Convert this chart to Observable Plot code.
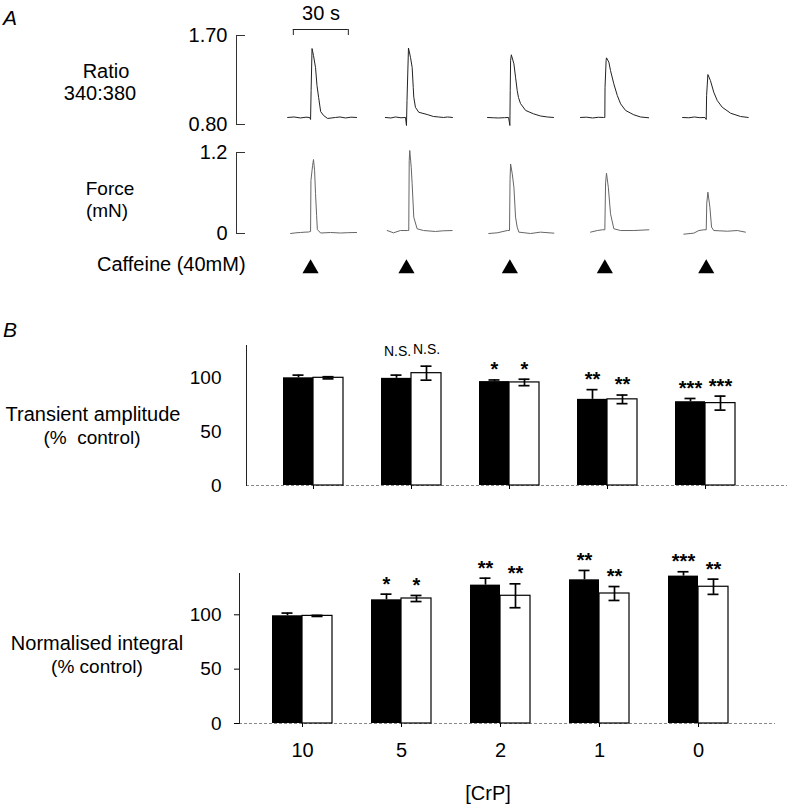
<!DOCTYPE html>
<html>
<head>
<meta charset="utf-8">
<script src="https://cdn.jsdelivr.net/npm/d3@7"></script>
<script src="https://cdn.jsdelivr.net/npm/@observablehq/plot@0.6"></script>
<style>
  body { margin: 0; background: white; }
  #fig { position: relative; width: 790px; height: 810px; overflow: hidden; background: white; }
  #fig svg { position: absolute; left: 0; }
  .lbl { position: absolute; white-space: nowrap; color: black; }
</style>
</head>
<body>
<div id="fig"></div>
<script>
// ---------------- DATA ----------------
// Panel A: caffeine application times along the recording (s)
const onsets = [40.4, 92.7, 149.1, 200.9, 256.2];
const scaleBarStart = 31;     // s
const scaleBarLength = 30;    // s
const ratioTicks = [0.8, 1.7];
const forceTicks = [0, 1.2];

// Fura-2 ratio 340:380 traces: [time relative to caffeine (s), ratio]
const ratioTrace1 = [[-12.5,0.871],[-9,0.876],[-5.5,0.866],[-2.5,0.874],[-0.5,0.871],[0,0.851],[0.3,1.144],[0.8,1.568],[1.6,1.497],[2.7,1.376],[3.5,1.194],[4.4,1.073],[5.5,0.931],[7.1,0.891],[9.3,0.861],[13.6,0.871],[16,0.876],[19.1,0.866],[22,0.874],[25.1,0.871]];
const ratioTrace2 = [[-11.5,0.871],[-8.5,0.866],[-6,0.876],[-3,0.868],[-0.5,0.871],[0,0.79],[0.3,1.043],[1.1,1.573],[2.2,1.479],[3.1,1.378],[3.7,1.176],[4.0,1.075],[4.9,0.974],[6.7,0.924],[11.3,0.901],[14.7,0.881],[17.5,0.876],[20.2,0.871],[22.5,0.876],[25.1,0.871]];
const ratioTrace3 = [[-12.2,0.871],[-9,0.868],[-6.2,0.866],[-3,0.869],[-0.7,0.871],[0,0.79],[0.2,1.144],[0.4,1.447],[0.8,1.505],[2.2,1.414],[3.1,1.278],[4.0,1.144],[4.7,1.073],[5.8,1.012],[8.6,0.942],[12.9,0.908],[16.7,0.886],[20.4,0.876],[23.8,0.871]];
const ratioTrace4 = [[-13.3,0.871],[-10,0.874],[-6.7,0.866],[-3.5,0.873],[-0.7,0.871],[0,0.871],[0.1,1.174],[0.7,1.447],[0.9,1.474],[2.2,1.43],[3.1,1.345],[4.9,1.211],[6.8,1.093],[8.6,1.009],[11.3,0.942],[15.8,0.898],[19.5,0.876],[23.9,0.868]];
const ratioTrace5 = [[-12.9,0.871],[-9.5,0.868],[-6.4,0.876],[-3.5,0.869],[-0.7,0.871],[0,0.851],[0.2,1.093],[0.9,1.305],[2.3,1.244],[4.1,1.127],[6.0,1.043],[8.7,0.975],[13.3,0.914],[18.7,0.881],[22.9,0.871]];

// Force traces (mN): [time relative to caffeine (s), force]
const forceTrace1 = [[-10.9,0.0],[-8,0.01],[-5.5,0.015],[-3,0.02],[-1.1,0.022],[0,0.03],[0.2,0.785],[1.1,1.007],[1.6,1.096],[2.2,0.933],[2.7,0.593],[3.3,0.267],[3.7,0.059],[5.5,0.007],[10.9,0.015],[16.4,0.007],[20,0.012],[25.1,0.015]];
const forceTrace2 = [[-10.5,0.044],[-7.1,0.01],[-3.3,0.044],[0.4,0.044],[1.25,0.044],[1.5,1.081],[1.8,1.23],[2.6,0.982],[3.1,0.736],[4.0,0.241],[5.8,0.07],[9.3,0.044],[15.8,0.03],[20,0.04],[24.9,0.044]];
const forceTrace3 = [[-11.5,0.0],[-6.9,0.01],[-1.4,0.044],[-0.2,0.044],[0.1,0.8],[0.4,1.03],[1.3,0.884],[2.2,0.686],[3.1,0.242],[4.0,0.094],[4.9,0.02],[11.3,0.0],[16.7,0.02],[24.0,0.005]];
const forceTrace4 = [[-7.8,0.02],[-4.1,0.044],[-1.4,0.055],[0,0.055],[0.4,0.75],[0.9,0.893],[1.9,0.686],[3.1,0.292],[4.9,0.07],[8.6,0.044],[15.8,0.044],[24.0,0.055]];
const forceTrace5 = [[-12.2,-0.01],[-6.8,0.005],[-4.0,0.044],[-1.3,0.055],[0,0.055],[0.3,0.45],[0.9,0.612],[2.0,0.39],[2.9,0.094],[4.1,0.044],[11.5,0.034],[16.9,0.044],[21.4,0.02]];

// Panel B: [CrP] categories
const crp = ["10", "5", "2", "1", "0"];
const ampTicks = [0, 50, 100];
const intTicks = [0, 50, 100];
// Transient amplitude (% control)
const ampBlack    = [100, 99.5, 96.5, 80, 77.8];
const ampBlackErr = [2.5, 3, 1.5, 9, 3];
const ampWhite    = [100, 104.3, 95.7, 80, 76.5];
const ampWhiteErr = [1, 6.5, 3, 4, 6.5];
const ampBlackSig = ["", "N.S.", "*", "**", "***"];
const ampWhiteSig = ["", "N.S.", "*", "**", "***"];
// Normalised integral (% control)
const intBlack    = [99.1, 113.8, 127.3, 132.2, 135.6];
const intBlackErr = [2.5, 5.2, 6.4, 8.6, 4];
const intWhite    = [99, 115, 117.5, 119.6, 125.8];
const intWhiteErr = [0.5, 2.8, 11, 6.4, 7];
const intBlackSig = ["", "*", "**", "**", "***"];
const intWhiteSig = ["", "*", "**", "**", "**"];

// ---------------- DRAWING ----------------
const FONT = '"Liberation Sans", Arial, Helvetica, sans-serif';
const fig = document.getElementById("fig");
const baseStyle = {background: "transparent", overflow: "visible", fontFamily: FONT, fontSize: "20px", color: "black"};

function place(svg, top) { svg.style.top = top + "px"; fig.appendChild(svg); }
function label(text, x, baseline, {size = 19, anchor = "middle", italic = false} = {}) {
  const d = document.createElement("div");
  d.className = "lbl";
  d.textContent = text;
  d.style.font = `${italic ? "italic " : ""}${size}px ${FONT}`;
  d.style.lineHeight = size + "px";
  d.style.top = (baseline - 0.8465 * size) + "px";
  if (anchor === "middle") { d.style.left = (x - 150) + "px"; d.style.width = "300px"; d.style.textAlign = "center"; }
  else d.style.left = x + "px";
  fig.appendChild(d);
}

const xTime = {domain: [0, 285.8], axis: null};
const traceRows = (traces) => traces.flatMap((tr, k) => tr.map(([t, v]) => ({trace: k, time: onsets[k] + t, v})));

// Scale bar (30 s)
place(Plot.plot({
  width: 790, height: 40, marginLeft: 236, marginRight: 30, marginTop: 29, marginBottom: 5,
  x: xTime, y: {domain: [0, 1], axis: null},
  style: baseStyle,
  marks: [
    Plot.ruleY([1], {x1: scaleBarStart, x2: scaleBarStart + scaleBarLength, stroke: "#222"}),
    Plot.ruleX([scaleBarStart, scaleBarStart + scaleBarLength], {y1: 0, y2: 1, stroke: "#222"})
  ]
}), 0);

// Ratio traces
place(Plot.plot({
  width: 790, height: 132, marginLeft: 236, marginRight: 30, marginTop: 35, marginBottom: 8,
  x: xTime, y: {domain: ratioTicks, label: null},
  style: baseStyle,
  marks: [
    Plot.ruleX([xTime.domain[0]], {y1: ratioTicks[0], y2: ratioTicks[1], stroke: "#333"}),
    Plot.axisY({ticks: ratioTicks, tickSize: 9, dx: 9, tickFormat: () => "", stroke: "#333"}),
    Plot.axisY({ticks: ratioTicks, tickSize: 0, tickPadding: 9, tickFormat: ".2f", fontSize: 20}),
    Plot.line(traceRows([ratioTrace1, ratioTrace2, ratioTrace3, ratioTrace4, ratioTrace5]),
      {x: "time", y: "v", z: "trace", stroke: "#222", strokeWidth: 1})
  ]
}), 0);

// Force traces
place(Plot.plot({
  width: 790, height: 100, marginLeft: 236, marginRight: 30, marginTop: 12, marginBottom: 7,
  x: xTime, y: {domain: forceTicks, label: null},
  style: baseStyle,
  marks: [
    Plot.ruleX([xTime.domain[0]], {y1: forceTicks[0], y2: forceTicks[1], stroke: "#333"}),
    Plot.axisY({ticks: forceTicks, tickSize: 9, dx: 9, tickFormat: () => "", stroke: "#333"}),
    Plot.axisY({ticks: forceTicks, tickSize: 0, tickPadding: 9, tickFormat: d => d === 0 ? "0" : d.toFixed(1), fontSize: 20}),
    Plot.line(traceRows([forceTrace1, forceTrace2, forceTrace3, forceTrace4, forceTrace5]),
      {x: "time", y: "v", z: "trace", stroke: "#666", strokeWidth: 1})
  ]
}), 140);

// Caffeine markers
place(Plot.plot({
  width: 790, height: 32, marginLeft: 236, marginRight: 30, marginTop: 0, marginBottom: 0,
  x: xTime, style: baseStyle,
  marks: [Plot.dot(onsets, {x: d => d, symbol: "triangle", r: 6, fill: "black", stroke: "none"})]
}), 252);

// Bar charts
function barChart({black, blackErr, white, whiteErr, sigB, sigW, ticks, ymax, height, marginLeft, marginRight, marginTop, marginBottom, yTickSize, yTickPadding, xLabels, band}) {
  const B = crp.map((c, i) => ({crp: c, v: black[i], e: blackErr[i], sig: sigB[i]}));
  const Wd = crp.map((c, i) => ({crp: c, v: white[i], e: whiteErr[i], sig: sigW[i]}));
  const star = d => d.sig.includes("*");
  const ns = d => d.sig && !d.sig.includes("*");
  return Plot.plot({
    width: 790, height, marginLeft, marginRight, marginTop, marginBottom,
    x: {type: "band", domain: crp, ...band, label: null},
    y: {domain: [0, ymax], label: null},
    style: baseStyle,
    marks: [
      Plot.ruleY([0], {stroke: "#888", strokeDasharray: "3,2", strokeWidth: 1}),
      Plot.barY(B, {x: "crp", y: "v", fill: "black", insetRight: 30}),
      Plot.barY(Wd, {x: "crp", y: "v", fill: "white", stroke: "black", strokeWidth: 1.2, insetLeft: 30}),
      Plot.ruleX(B, {x: "crp", y1: "v", y2: d => d.v + d.e, dx: -15, strokeWidth: 1.7}),
      Plot.tickY(B, {x: "crp", y: d => d.v + d.e, insetLeft: 9.5, insetRight: 39.5, strokeWidth: 1.7}),
      Plot.ruleX(Wd, {x: "crp", y1: d => d.v - d.e, y2: d => d.v + d.e, dx: 15, strokeWidth: 1.7}),
      Plot.tickY(Wd, {x: "crp", y: d => d.v + d.e, insetLeft: 39.5, insetRight: 9.5, strokeWidth: 1.7}),
      Plot.tickY(Wd, {x: "crp", y: d => d.v - d.e, insetLeft: 39.5, insetRight: 9.5, strokeWidth: 1.7}),
      Plot.text(B.filter(star), {x: "crp", y: d => d.v + d.e, text: "sig", dx: -15, dy: -10, fontSize: 20, fontWeight: "bold"}),
      Plot.text(Wd.filter(star), {x: "crp", y: d => d.v + d.e, text: "sig", dx: 15, dy: -10, fontSize: 20, fontWeight: "bold"}),
      Plot.text(B.filter(ns), {x: "crp", y: d => d.v + d.e, text: "sig", dx: -14, dy: -24, fontSize: 14}),
      Plot.text(Wd.filter(ns), {x: "crp", y: d => d.v + d.e, text: "sig", dx: 15, dy: -17, fontSize: 14}),
      Plot.frame({anchor: "left", stroke: "#222"}),
      Plot.axisY({ticks, tickSize: yTickSize, tickPadding: yTickPadding, fontSize: 19}),
      xLabels
        ? Plot.axisX({tickSize: 4, tickPadding: 15, fontSize: 20})
        : Plot.axisX({tickSize: 4, tickFormat: () => ""})
    ]
  });
}

place(barChart({
  black: ampBlack, blackErr: ampBlackErr, white: ampWhite, whiteErr: ampWhiteErr,
  sigB: ampBlackSig, sigW: ampWhiteSig, ticks: ampTicks, ymax: 130,
  height: 165, marginLeft: 246, marginRight: 3, marginTop: 15, marginBottom: 10,
  yTickSize: 0, yTickPadding: 25, xLabels: false,
  band: {paddingInner: 0.3924, paddingOuter: 0.435, align: 0.419}
}), 330);

place(barChart({
  black: intBlack, blackErr: intBlackErr, white: intWhite, whiteErr: intWhiteErr,
  sigB: intBlackSig, sigW: intWhiteSig, ticks: intTicks, ymax: 138,
  height: 203, marginLeft: 239, marginRight: 15, marginTop: 13, marginBottom: 40,
  yTickSize: 5, yTickPadding: 13, xLabels: true,
  band: {paddingInner: 0.394, paddingOuter: 0.404, align: 0.4125}
}), 560);

// Text labels
label("A", 3, 25, {size: 21, anchor: "start", italic: true});
label("30 s", 321, 20, {size: 20});
label("Ratio", 106, 78, {size: 20});
label("340:380", 100, 100, {size: 20});
label("Force", 110, 195);
label("(mN)", 107, 217);
label("Caffeine (40mM)", 97, 271, {size: 20, anchor: "start"});
label("B", 3, 337, {size: 21, anchor: "start", italic: true});
label("Transient amplitude", 93, 421, {size: 20});
label("(% \u00a0control)", 92, 444);
label("Normalised integral", 97, 650, {size: 20});
label("(% control)", 97, 673);
label("[CrP]", 488, 800, {size: 20});
</script>
</body>
</html>
